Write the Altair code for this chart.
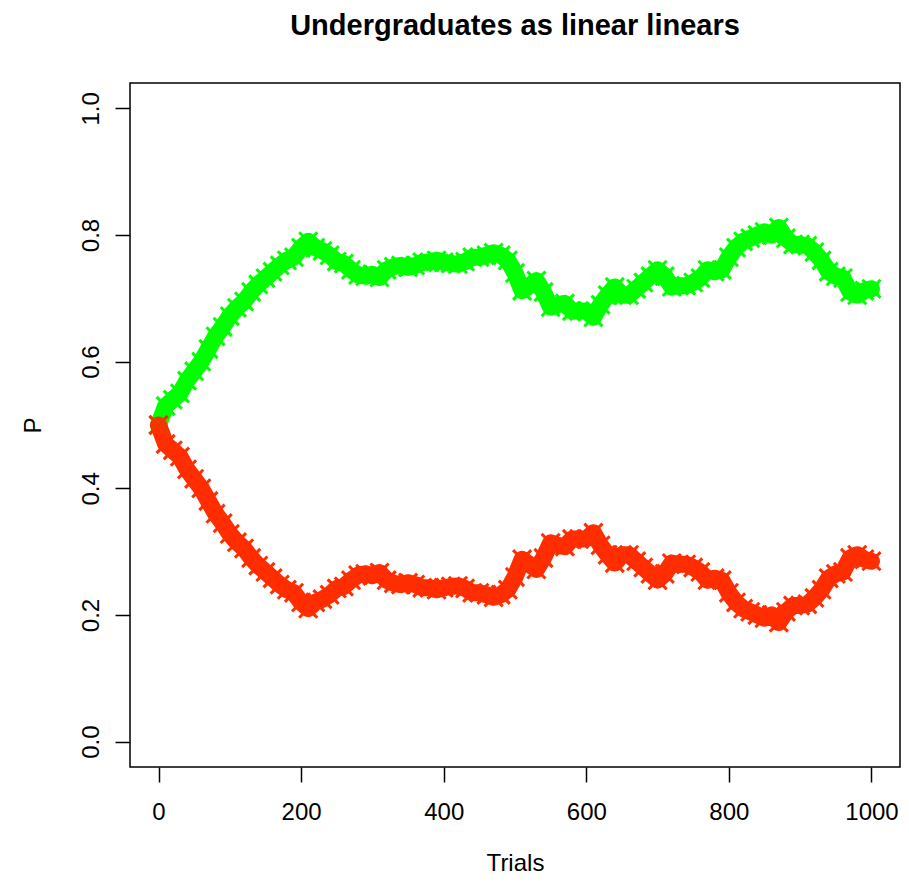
import altair as alt
import pandas as pd

trials = list(range(0, 1001, 10))

green = [0.50, 0.53, 0.54, 0.55, 0.57, 0.585, 0.60, 0.62, 0.64, 0.655,
         0.672, 0.685, 0.695, 0.71, 0.722, 0.732, 0.742, 0.752, 0.76, 0.765,
         0.78, 0.79, 0.78, 0.775, 0.768, 0.758, 0.755, 0.745, 0.737, 0.735,
         0.738, 0.733, 0.745, 0.75, 0.752, 0.749, 0.752, 0.757, 0.757, 0.76,
         0.757, 0.755, 0.754, 0.758, 0.765, 0.765, 0.768, 0.772, 0.768, 0.76,
         0.74, 0.712, 0.72, 0.728, 0.71, 0.686, 0.69, 0.692, 0.68, 0.68,
         0.68, 0.67, 0.69, 0.705, 0.718, 0.705, 0.705, 0.715, 0.725, 0.735,
         0.745, 0.735, 0.718, 0.72, 0.72, 0.725, 0.732, 0.745, 0.742, 0.745,
         0.765, 0.78, 0.79, 0.795, 0.80, 0.805, 0.80, 0.812, 0.795, 0.785,
         0.785, 0.783, 0.773, 0.76, 0.742, 0.735, 0.732, 0.71, 0.705, 0.712,
         0.715]

red = [0.50, 0.47, 0.46, 0.45, 0.43, 0.415, 0.40, 0.38, 0.36, 0.345,
       0.328, 0.315, 0.305, 0.29, 0.278, 0.268, 0.258, 0.248, 0.24, 0.235,
       0.22, 0.21, 0.22, 0.225, 0.232, 0.242, 0.245, 0.255, 0.263, 0.265,
       0.262, 0.267, 0.255, 0.25, 0.248, 0.251, 0.248, 0.243, 0.243, 0.24,
       0.243, 0.245, 0.246, 0.242, 0.235, 0.235, 0.232, 0.228, 0.232, 0.24,
       0.26, 0.288, 0.28, 0.272, 0.29, 0.314, 0.31, 0.308, 0.32, 0.32,
       0.32, 0.33, 0.31, 0.295, 0.282, 0.295, 0.295, 0.285, 0.275, 0.265,
       0.255, 0.265, 0.282, 0.28, 0.28, 0.275, 0.268, 0.255, 0.258, 0.255,
       0.235, 0.22, 0.21, 0.205, 0.20, 0.195, 0.20, 0.188, 0.205, 0.215,
       0.215, 0.217, 0.227, 0.24, 0.258, 0.265, 0.268, 0.29, 0.295, 0.288,
       0.285]

x_ticks = [0, 200, 400, 600, 800, 1000]
y_ticks = [0.0, 0.2, 0.4, 0.6, 0.8, 1.0]

df = pd.DataFrame({
    "Trials": trials * 2,
    "P": green + red,
    "series": ["green"] * len(trials) + ["red"] * len(trials),
})

FONT = "Liberation Sans"

xenc = alt.X(
    "Trials:Q",
    scale=alt.Scale(domain=[-40, 1040], nice=False, zero=False),
    axis=alt.Axis(
        values=x_ticks, format="d", grid=False, domain=False,
        tickColor="black", tickWidth=1.5, tickSize=15, labelPadding=18,
        labelFontSize=24, labelFont=FONT, labelColor="black",
        title="Trials", titleFont=FONT, titleFontSize=24,
        titleFontWeight="normal", titleColor="black", titleX=385,
        titleY=103, titleBaseline="alphabetic", labelFlush=False,
    ),
)
yenc = alt.Y(
    "P:Q",
    scale=alt.Scale(domain=[-0.04, 1.04], nice=False, zero=False),
    axis=alt.Axis(
        values=y_ticks, format=".1f", grid=False, domain=False,
        tickColor="black", tickWidth=1.5, tickSize=15, labelPadding=17,
        labelFontSize=24, labelFont=FONT, labelColor="black",
        labelAngle=270, labelAlign="center", labelBaseline="alphabetic",
        title="P", titleFont=FONT, titleFontSize=24,
        titleFontWeight="normal", titleColor="black", titleAngle=270,
        titleX=-97, titleY=342, titleBaseline="middle", titleAlign="center",
        labelFlush=False,
    ),
)
color = alt.Color(
    "series:N",
    scale=alt.Scale(domain=["green", "red"], range=["#00ff00", "#ff2d00"]),
    legend=None,
)

base = alt.Chart(df).encode(x=xenc, y=yenc, color=color, detail="series:N")

band = base.mark_line(strokeWidth=17, strokeCap="round", strokeJoin="round")
crosses = base.mark_point(
    shape="M-1,-1L1,1M-1,1L1,-1", size=330, filled=False, strokeWidth=3,
    opacity=1,
)

chart = alt.layer(band, crosses).properties(
    width=770,
    height=684,
    title=alt.TitleParams(
        "Undergraduates as linear linears", font=FONT, fontSize=29,
        fontWeight="bold", color="black", anchor="middle", frame="group",
        baseline="alphabetic", offset=19,
    ),
    autosize=alt.AutoSizeParams(type="none"),
    padding={"left": 122, "top": 75, "right": 1, "bottom": 109},
).configure(
    background="white",
    view=alt.ViewConfig(stroke="black", strokeWidth=1.5),
)

chart.save("out.html", embed_options={"renderer": "svg", "actions": False})
